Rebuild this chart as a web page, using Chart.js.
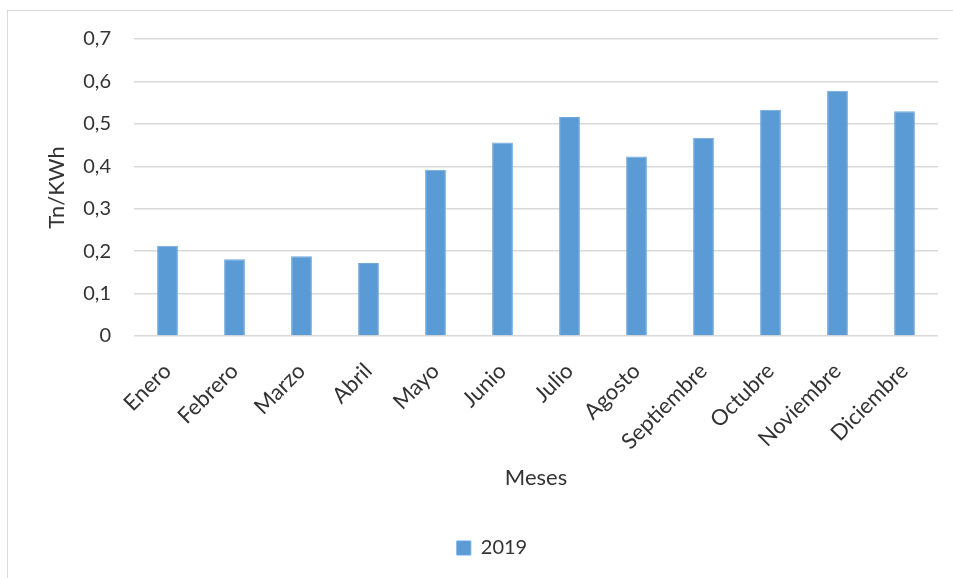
<!DOCTYPE html>
<html>
<head>
<meta charset="utf-8">
<script src="https://cdn.jsdelivr.net/npm/chart.js@4"></script>
<style>
  html, body { margin: 0; padding: 0; background: #ffffff; }
  #wrap { position: relative; width: 953px; height: 578px; }
</style>
</head>
<body>
<div id="wrap"><canvas id="c" width="953" height="578"></canvas></div>
<script>
const months = ["Enero", "Febrero", "Marzo", "Abril", "Mayo", "Junio", "Julio", "Agosto", "Septiembre", "Octubre", "Noviembre", "Diciembre"];
const values2019 = [0.213, 0.181, 0.188, 0.172, 0.392, 0.456, 0.516, 0.423, 0.467, 0.533, 0.578, 0.530];
const seriesName = "2019";
const yTitle = "Tn/KWh";
const xTitle = "Meses";
const yMin = 0, yMax = 0.7, yStep = 0.1;

const textColor = "#333333";
const fontFamily = "Lato, 'Liberation Sans', sans-serif";

const frame = {
  id: "frame",
  beforeDraw(chart) {
    const ctx = chart.ctx;
    ctx.save();
    ctx.fillStyle = "#ffffff";
    ctx.fillRect(0, 0, chart.width, chart.height);
    ctx.strokeStyle = "#D9D9D9";
    ctx.lineWidth = 1;
    ctx.strokeRect(7.5, 10.5, 1000, 1000);
    ctx.restore();
  }
};

Chart.defaults.font.family = fontFamily;
Chart.defaults.color = textColor;

new Chart(document.getElementById("c"), {
  type: "bar",
  data: {
    labels: months,
    datasets: [{
      label: seriesName,
      data: values2019,
      backgroundColor: "#5B9BD5",
      borderColor: "#6FA8DC",
      borderWidth: 1,
      categoryPercentage: 1,
      barPercentage: 0.31
    }]
  },
  options: {
    responsive: false,
    animation: false,
    devicePixelRatio: 1,
    layout: { padding: { left: 46, right: 15, top: 39, bottom: 10 } },
    plugins: {
      legend: {
        position: "bottom",
        labels: {
          boxWidth: 14,
          boxHeight: 14,
          padding: 10,
          font: { size: 20 },
          color: textColor
        }
      },
      tooltip: { enabled: false }
    },
    scales: {
      x: {
        grid: { display: false, drawTicks: false },
        border: { display: false },
        ticks: {
          autoSkip: false,
          minRotation: 45,
          maxRotation: 45,
          padding: 22,
          font: { size: 22 },
          color: textColor
        },
        title: {
          display: true,
          text: xTitle,
          font: { size: 22 },
          color: textColor,
          padding: { top: 0, bottom: 37 }
        },
        afterFit(scale) { scale.height = 192; }
      },
      y: {
        min: yMin,
        max: yMax,
        grid: { color: "#D9D9D9", lineWidth: 1.5, drawTicks: false },
        border: { display: false },
        ticks: {
          stepSize: yStep,
          padding: 23,
          font: { size: 20 },
          color: textColor,
          callback: (v) => (Math.abs(v) < 1e-9 ? "0" : Number(v).toFixed(1).replace(".", ","))
        },
        title: {
          display: true,
          text: yTitle,
          font: { size: 22 },
          color: textColor,
          padding: { top: -2, bottom: 0 }
        },
        afterFit(scale) { scale.width = 88; }
      }
    }
  },
  plugins: [frame]
});
</script>
</body>
</html>
